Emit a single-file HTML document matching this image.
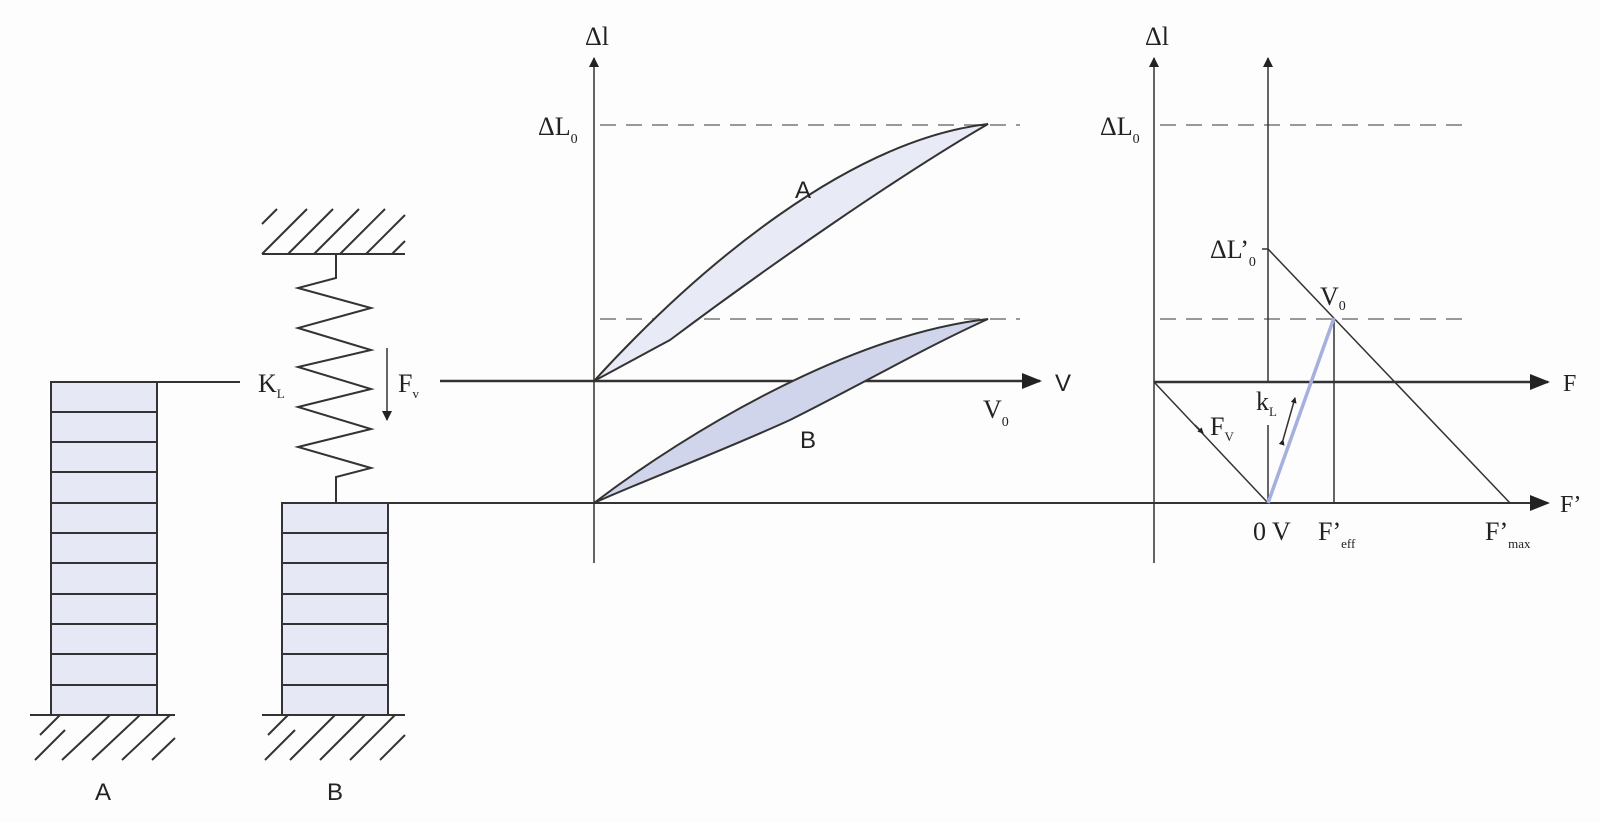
<!DOCTYPE html>
<html><head><style>body{margin:0;background:#fdfdfd}svg{display:block}text{font-family:"Liberation Serif",serif;fill:#222}</style></head><body>
<svg width="1600" height="822" viewBox="0 0 1600 822" xmlns="http://www.w3.org/2000/svg">
<defs>
<marker id="ar" markerWidth="10" markerHeight="10" refX="9" refY="5" orient="auto" markerUnits="userSpaceOnUse"><path d="M0,0 L10,5 L0,10 z" fill="#222"/></marker>
<marker id="ar2" markerWidth="20" markerHeight="16" refX="18" refY="8" orient="auto" markerUnits="userSpaceOnUse"><path d="M0,0 L20,8 L0,16 z" fill="#222"/></marker>
<marker id="sa" markerWidth="6" markerHeight="6" refX="5" refY="3" orient="auto" markerUnits="userSpaceOnUse"><path d="M0,0 L6,3 L0,6 z" fill="#222"/></marker>
</defs>
<g stroke="#333" stroke-width="2" fill="none">
<rect x="51" y="382" width="106" height="333" fill="#e6e9f5"/>
<path d="M51,412H157M51,442H157M51,472H157M51,503H157M51,533H157M51,563H157M51,594H157M51,624H157M51,654H157M51,685H157"/>
<path d="M30,715H175"/>
<path d="M35,760L65,730M62,760L110,715M92,760L140,715M122,760L170,715M152,760L175,738M40,735L60,715"/>
<rect x="282" y="503" width="106" height="212" fill="#e6e9f5"/>
<path d="M282,533H388M282,563H388M282,594H388M282,624H388M282,654H388M282,685H388"/>
<path d="M262,715H405"/>
<path d="M265,760L295,730M290,760L335,715M320,760L365,715M350,760L395,715M380,760L405,735M268,735L288,715"/>
<path d="M262,254H405"/>
<path d="M262,224L277,209M262,254L307,209M288,254L333,209M314,254L359,209M340,254L385,209M366,254L405,215M392,254L405,241"/>
<path d="M336,254V278L298,288L371,308L298,328L371,350L298,367L371,389L298,407L371,429L298,447L371,468L336,477V503"/>
<path d="M157,382H240"/>
<path d="M388,503H1548" marker-end="url(#ar2)"/>
<path d="M387,348V420" stroke-width="1.5" marker-end="url(#ar)"/>
<path d="M594,563V58" stroke-width="1.5" marker-end="url(#ar)"/>
<path d="M440,381H1040" stroke-width="2.5" marker-end="url(#ar2)"/>
<path d="M600,125H1020M600,319H1020M1160,125H1470M1160,319H1470" stroke="#999" stroke-dasharray="16,10"/>
<path d="M594,381 C700,265 850,140 988,124 C900,175 770,265 670,340 C640,356 615,370 594,381 Z" fill="#e8eaf6"/>
<path d="M594,503 C690,430 850,335 988,319 C930,345 860,385 790,420 C720,452 640,482 594,503 Z" fill="#d0d5ec"/>
<path d="M1154,563V58" stroke-width="1.5" marker-end="url(#ar)"/>
<path d="M1268,382V58" stroke-width="1.5" marker-end="url(#ar)"/>
<path d="M1268,425V503" stroke-width="1.5"/>
<path d="M1154,382H1548" stroke-width="2.5" marker-end="url(#ar2)"/>
<path d="M1262,249H1268L1510,503" stroke-width="1.5"/>
<path d="M1334,318V503" stroke-width="1.5"/>
<path d="M1154,382L1268,503" stroke-width="1.5"/>
<path d="M1195,425l8,8" stroke-width="1.5" marker-end="url(#sa)"/>
<path d="M1283,440L1295,398" stroke-width="1.5" marker-end="url(#sa)" marker-start="url(#sa)"/>
<path d="M1268,503L1334,318" stroke="#a5b0de" stroke-width="3.5"/>
</g>
<g font-size="26">
<text x="585" y="45">Δl</text>
<text x="1145" y="45">Δl</text>
<text x="538" y="135">ΔL<tspan font-size="14" dy="8">0</tspan></text>
<text x="1100" y="135">ΔL<tspan font-size="14" dy="8">0</tspan></text>
<text x="1210" y="258">ΔL’<tspan font-size="14" dy="8">0</tspan></text>
<text x="1320" y="305">V<tspan font-size="14" dy="5">0</tspan></text>
<text x="983" y="418">V<tspan font-size="14" dy="8">0</tspan></text>
<text x="258" y="392">K<tspan font-size="13" dy="6">L</tspan></text>
<text x="398" y="392">F<tspan font-size="13" dy="6">v</tspan></text>
<text x="1210" y="435">F<tspan font-size="13" dy="6">V</tspan></text>
<text x="1256" y="410">k<tspan font-size="13" dy="6">L</tspan></text>
<text x="1253" y="540">0 V</text>
<text x="1318" y="540">F’<tspan font-size="13" dy="8">eff</tspan></text>
<text x="1485" y="540">F’<tspan font-size="13" dy="8">max</tspan></text>
</g>
<g font-size="24">
<text x="1055" y="391" style="font-family:'Liberation Sans'">V</text>
<text x="1563" y="391">F</text>
<text x="1560" y="512">F’</text>
<text x="795" y="198" style="font-family:'Liberation Sans'">A</text>
<text x="800" y="448" style="font-family:'Liberation Sans'">B</text>
<text x="95" y="800" style="font-family:'Liberation Sans'">A</text>
<text x="327" y="800" style="font-family:'Liberation Sans'">B</text>
</g>
</svg>
</body></html>
